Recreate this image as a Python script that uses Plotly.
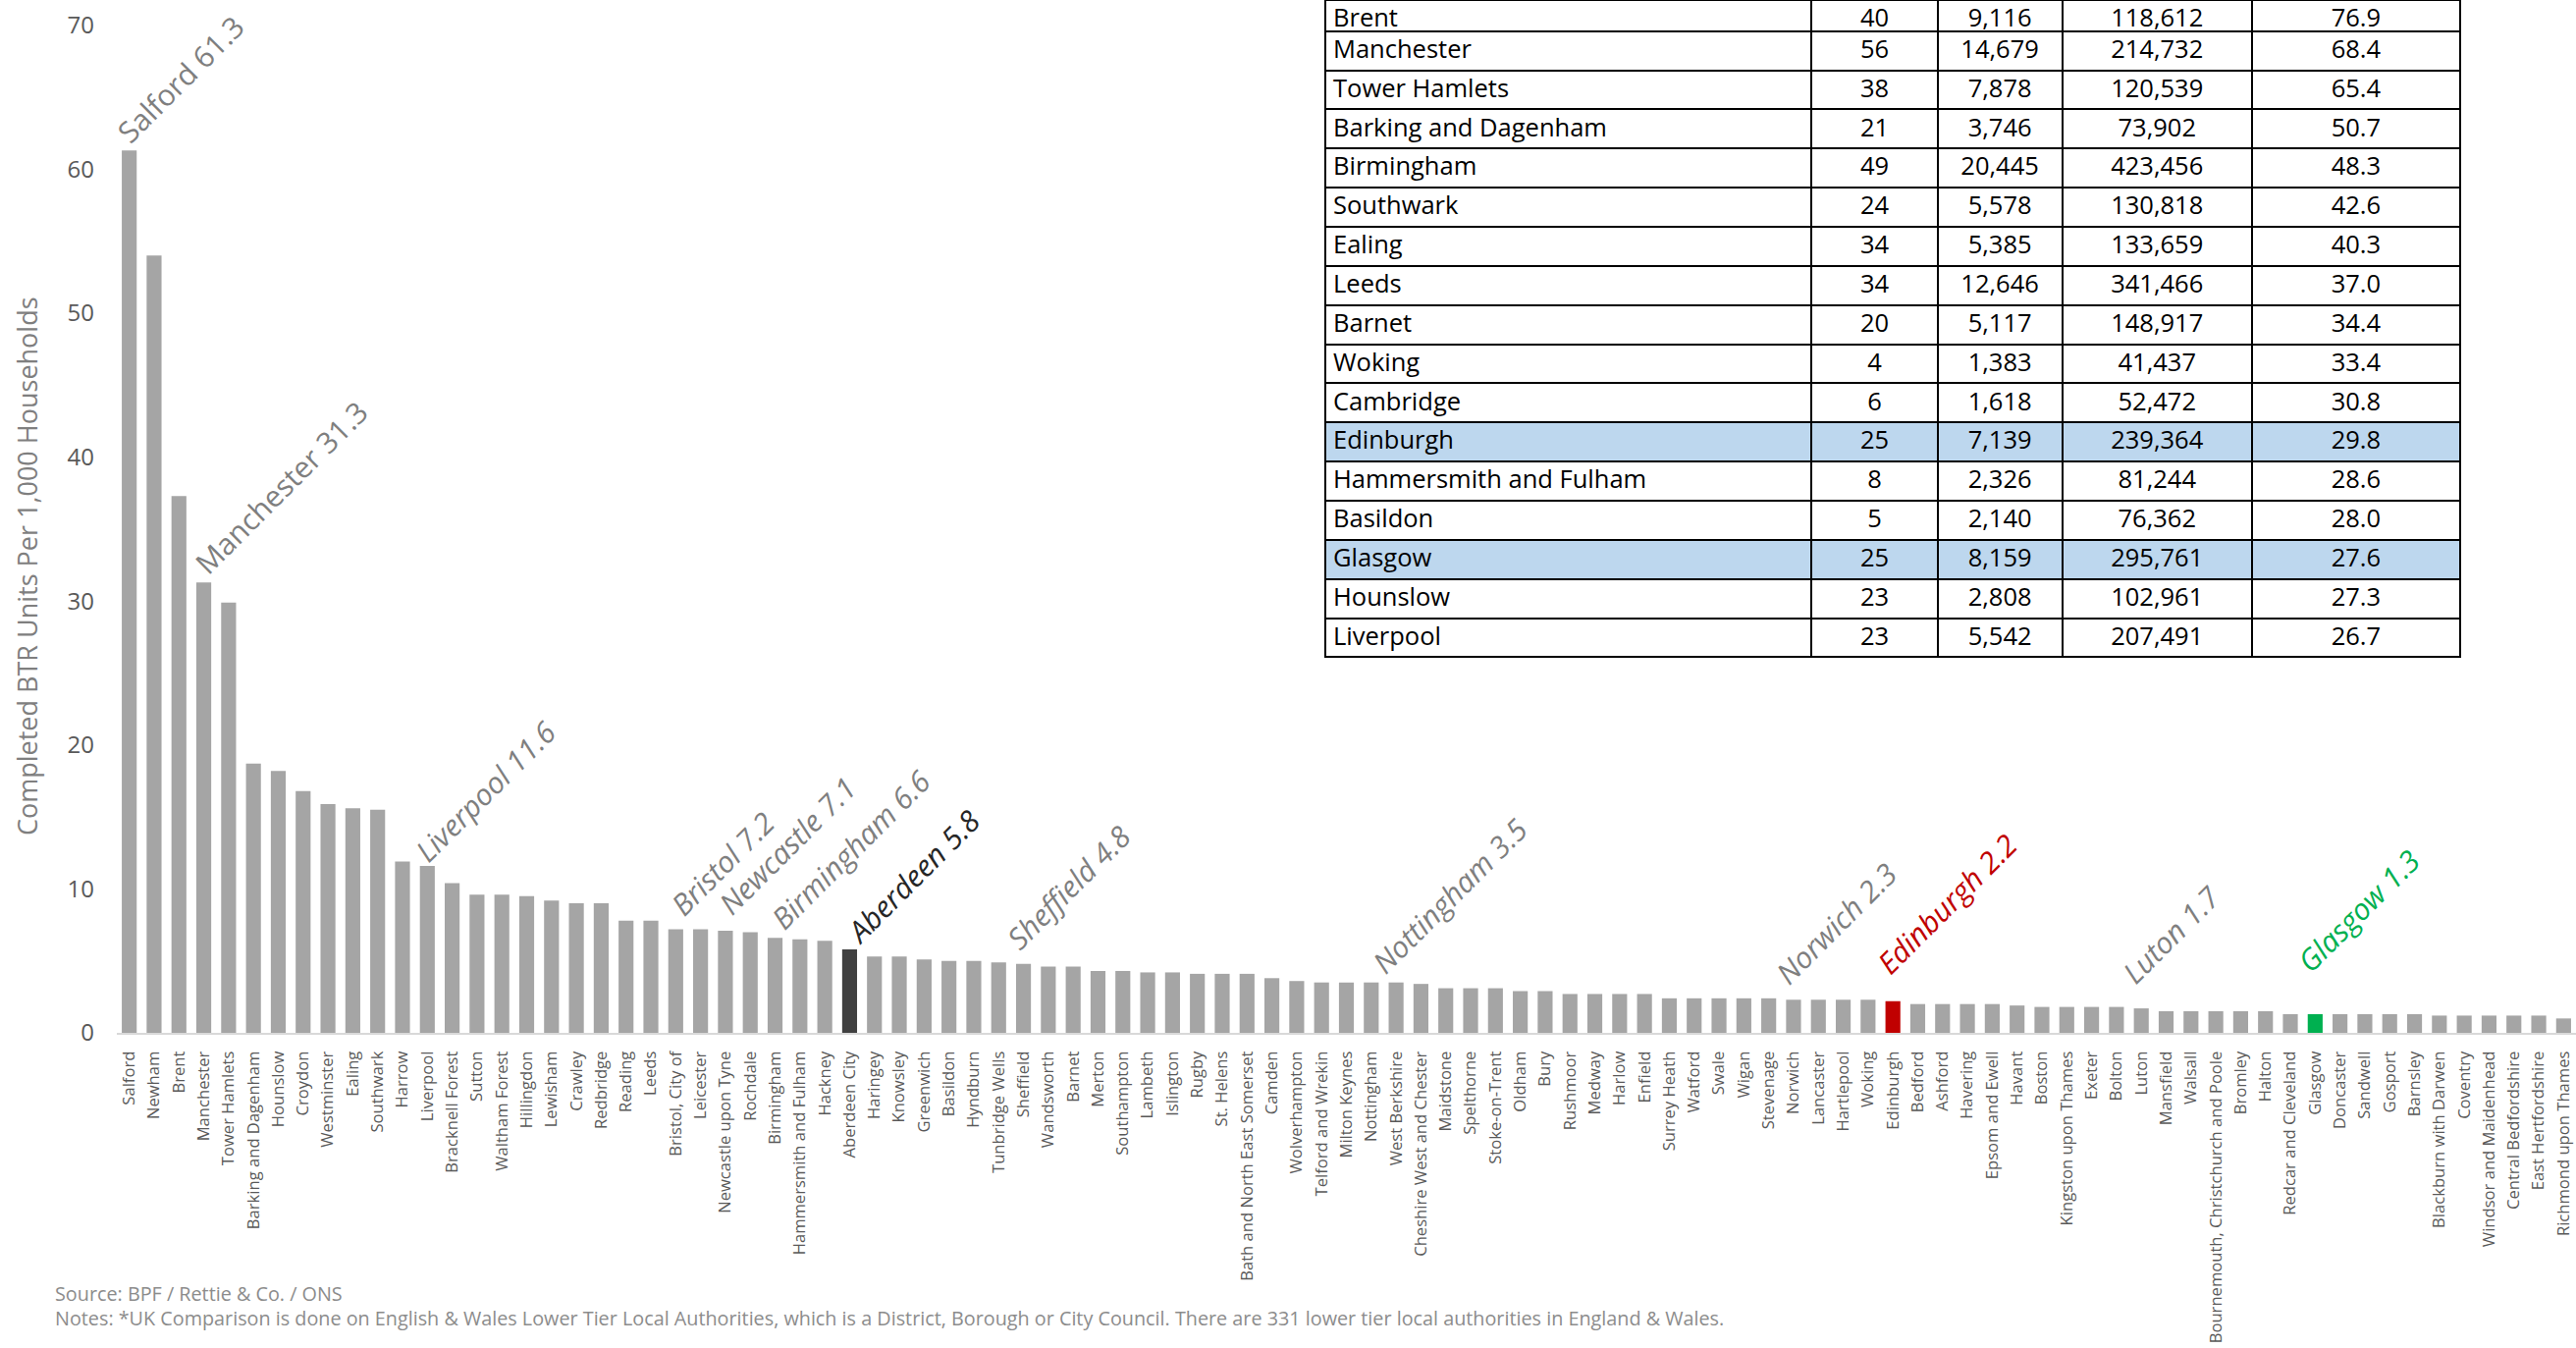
import plotly.graph_objects as go

# ---------------- data ----------------
categories = [
    "Salford", "Newham", "Brent", "Manchester", "Tower Hamlets", "Barking and Dagenham",
    "Hounslow", "Croydon", "Westminster", "Ealing", "Southwark", "Harrow", "Liverpool",
    "Bracknell Forest", "Sutton", "Waltham Forest", "Hillingdon", "Lewisham", "Crawley",
    "Redbridge", "Reading", "Leeds", "Bristol, City of", "Leicester", "Newcastle upon Tyne",
    "Rochdale", "Birmingham", "Hammersmith and Fulham", "Hackney", "Aberdeen City",
    "Haringey", "Knowsley", "Greenwich", "Basildon", "Hyndburn", "Tunbridge Wells",
    "Sheffield", "Wandsworth", "Barnet", "Merton", "Southampton", "Lambeth", "Islington",
    "Rugby", "St. Helens", "Bath and North East Somerset", "Camden", "Wolverhampton",
    "Telford and Wrekin", "Milton Keynes", "Nottingham", "West Berkshire",
    "Cheshire West and Chester", "Maidstone", "Spelthorne", "Stoke-on-Trent", "Oldham",
    "Bury", "Rushmoor", "Medway", "Harlow", "Enfield", "Surrey Heath", "Watford", "Swale",
    "Wigan", "Stevenage", "Norwich", "Lancaster", "Hartlepool", "Woking", "Edinburgh",
    "Bedford", "Ashford", "Havering", "Epsom and Ewell", "Havant", "Boston",
    "Kingston upon Thames", "Exeter", "Bolton", "Luton", "Mansfield", "Walsall",
    "Bournemouth, Christchurch and Poole", "Bromley", "Halton", "Redcar and Cleveland",
    "Glasgow", "Doncaster", "Sandwell", "Gosport", "Barnsley", "Blackburn with Darwen",
    "Coventry", "Windsor and Maidenhead", "Central Bedfordshire", "East Hertfordshire",
    "Richmond upon Thames",
]

values = [
    61.3, 54.0, 37.3, 31.3, 29.9, 18.7, 18.2, 16.8, 15.9, 15.6,
    15.5, 11.9, 11.6, 10.4, 9.6, 9.6, 9.5, 9.2, 9.0, 9.0,
    7.8, 7.8, 7.2, 7.2, 7.1, 7.0, 6.6, 6.5, 6.4, 5.8,
    5.3, 5.3, 5.1, 5.0, 5.0, 4.9, 4.8, 4.6, 4.6, 4.3,
    4.3, 4.2, 4.2, 4.1, 4.1, 4.1, 3.8, 3.6, 3.5, 3.5,
    3.5, 3.5, 3.4, 3.1, 3.1, 3.1, 2.9, 2.9, 2.7, 2.7,
    2.7, 2.7, 2.4, 2.4, 2.4, 2.4, 2.4, 2.3, 2.3, 2.3,
    2.3, 2.2, 2.0, 2.0, 2.0, 2.0, 1.9, 1.8, 1.8, 1.8,
    1.8, 1.7, 1.5, 1.5, 1.5, 1.5, 1.5, 1.3, 1.3, 1.3,
    1.3, 1.3, 1.3, 1.2, 1.2, 1.2, 1.2, 1.2, 1.0,
]

y_ticks = [0, 10, 20, 30, 40, 50, 60, 70]

# labelled bars: (category, short label)
label_categories = ["Salford", "Manchester", "Liverpool", "Bristol, City of",
                    "Newcastle upon Tyne", "Birmingham", "Aberdeen City", "Sheffield",
                    "Nottingham", "Norwich", "Edinburgh", "Luton", "Glasgow"]
label_names = ["Salford", "Manchester", "Liverpool", "Bristol", "Newcastle", "Birmingham",
               "Aberdeen", "Sheffield", "Nottingham", "Norwich", "Edinburgh", "Luton", "Glasgow"]

# table
tbl_names = ["Brent", "Manchester", "Tower Hamlets", "Barking and Dagenham", "Birmingham",
             "Southwark", "Ealing", "Leeds", "Barnet", "Woking", "Cambridge", "Edinburgh",
             "Hammersmith and Fulham", "Basildon", "Glasgow", "Hounslow", "Liverpool"]
tbl_schemes = [40, 56, 38, 21, 49, 24, 34, 34, 20, 4, 6, 25, 8, 5, 25, 23, 23]
tbl_units = [9116, 14679, 7878, 3746, 20445, 5578, 5385, 12646, 5117, 1383, 1618, 7139,
             2326, 2140, 8159, 2808, 5542]
tbl_households = [118612, 214732, 120539, 73902, 423456, 130818, 133659, 341466, 148917,
                  41437, 52472, 239364, 81244, 76362, 295761, 102961, 207491]
tbl_rate = [76.9, 68.4, 65.4, 50.7, 48.3, 42.6, 40.3, 37.0, 34.4, 33.4, 30.8, 29.8, 28.6,
            28.0, 27.6, 27.3, 26.7]
tbl_highlight = ["Edinburgh", "Glasgow"]

source_text = "Source: BPF / Rettie & Co. / ONS"
notes_text = ("Notes: *UK Comparison is done on English & Wales Lower Tier Local Authorities, "
              "which is a District, Borough or City Council. There are 331 lower tier local "
              "authorities in England & Wales.")
y_title = "Completed BTR Units Per 1,000 Households"

# ---------------- styles ----------------
W, H = 2624, 1373
ML, MR, MT, MB = 119, 0, 0, 321
PW, PH = W - ML - MR, H - MT - MB

GREY = "#A5A5A5"
special_colors = {"Aberdeen City": "#404040", "Edinburgh": "#C00000", "Glasgow": "#00B050"}
bar_colors = [special_colors.get(c, GREY) for c in categories]

LBL = "#7F7F7F"
label_style = {
    "Salford": dict(color=LBL, italic=False, dx=-24, dy=-4),
    "Manchester": dict(color=LBL, italic=False, dx=-21, dy=-3),
    "Liverpool": dict(color=LBL, italic=True, dx=-24, dy=-7),
    "Bristol": dict(color=LBL, italic=True, dx=-17, dy=3),
    "Newcastle": dict(color=LBL, italic=True, dx=-19, dy=5),
    "Birmingham": dict(color=LBL, italic=True, dx=-16, dy=-3),
    "Aberdeen": dict(color="#262626", italic=True, dx=-15, dy=-5),
    "Sheffield": dict(color=LBL, italic=True, dx=-29, dy=4),
    "Nottingham": dict(color=LBL, italic=True, dx=-11, dy=-2),
    "Norwich": dict(color=LBL, italic=True, dx=-30, dy=5),
    "Edinburgh": dict(color="#C00000", italic=True, dx=-28, dy=17),
    "Luton": dict(color=LBL, italic=True, dx=-31, dy=14),
    "Glasgow": dict(color="#00B050", italic=True, dx=-30, dy=32),
}

TABLE_FONT = dict(family="Open Sans", size=25.5, color="black")
TABLE_LINE = dict(color="black", width=2)
TABLE_ALIGN = ["left", "center", "center", "center", "center"]

# ---------------- figure ----------------
fig = go.Figure()

fig.add_trace(go.Bar(
    x=categories, y=values,
    marker=dict(color=bar_colors, line=dict(width=0)),
    showlegend=False,
))

tbl_cols = [tbl_names,
            [str(v) for v in tbl_schemes],
            [f"{v:,}" for v in tbl_units],
            [f"{v:,}" for v in tbl_households],
            [f"{v:.1f}" for v in tbl_rate]]
row_fill = ["#BDD7EE" if n in tbl_highlight else "white" for n in tbl_names]

# first row is partly cut off at the top of the image: shown as a shorter top row
fig.add_trace(go.Table(
    domain=dict(x=[(1350 - ML) / PW, (2506 - ML) / PW], y=[0.3, 1.0]),
    columnwidth=[495, 128, 127, 193, 212],
    header=dict(
        values=[[col[0]] for col in tbl_cols],
        height=31.7, align=TABLE_ALIGN, font=TABLE_FONT, line=TABLE_LINE,
        fill=dict(color=row_fill[0]),
    ),
    cells=dict(
        values=[col[1:] for col in tbl_cols],
        align=TABLE_ALIGN, height=39.86, font=TABLE_FONT, line=TABLE_LINE,
        fill=dict(color=[row_fill[1:]] * 5),
    ),
))

annotations = []
for cat, name in zip(label_categories, label_names):
    v = values[categories.index(cat)]
    st = label_style[name]
    annotations.append(dict(
        x=cat, y=v, xref="x", yref="y",
        text=f"{name} {v:.1f}",
        showarrow=False, textangle=-45,
        xanchor="left", yanchor="bottom",
        xshift=st["dx"], yshift=st["dy"],
        font=dict(family="Open Sans", size=30, color=st["color"],
                  style="italic" if st["italic"] else "normal"),
    ))

annotations.append(dict(
    x=(28 - ML) / PW, y=(PH - 577) / PH, xref="paper", yref="paper",
    text=y_title, showarrow=False, textangle=-90,
    xanchor="center", yanchor="middle",
    font=dict(family="Open Sans", size=27, color="#7F7F7F"),
))
annotations.append(dict(
    x=(54 - ML) / PW, y=(PH - 1317) / PH, xref="paper", yref="paper",
    text=source_text, showarrow=False, xanchor="left", yanchor="middle",
    font=dict(family="Open Sans", size=19.8, color="#8C8C8C"),
))
annotations.append(dict(
    x=(54 - ML) / PW, y=(PH - 1342) / PH, xref="paper", yref="paper",
    text=notes_text, showarrow=False, xanchor="left", yanchor="middle",
    font=dict(family="Open Sans", size=19.8, color="#8C8C8C"),
))

fig.update_layout(
    width=W, height=H,
    margin=dict(l=ML, r=MR, t=MT, b=MB, pad=0),
    paper_bgcolor="white", plot_bgcolor="white",
    bargap=0.4,
    showlegend=False,
    annotations=annotations,
    xaxis=dict(
        type="category", range=[-0.5, len(categories) - 0.5],
        tickangle=-90, ticks="", showgrid=False,
        showline=True, linecolor="#D9D9D9", linewidth=2,
        tickfont=dict(family="Open Sans", size=16.6, color="#595959"),
        ticklabelstandoff=10, automargin=False,
    ),
    yaxis=dict(
        range=[0, 71.76], tickvals=y_ticks, ticks="", showgrid=False,
        showline=False, zeroline=False,
        tickfont=dict(family="Open Sans", size=24, color="#595959"),
        ticklabelstandoff=22, automargin=False,
    ),
)

fig.write_html("out.html")
